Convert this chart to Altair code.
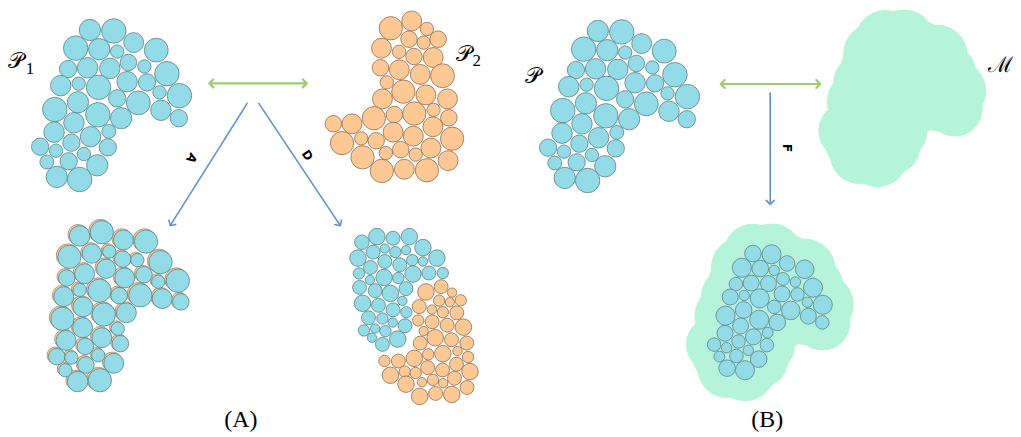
import altair as alt
import pandas as pd
import math

# ---------------- data (pixel units of the figure) ----------------
# P1 packing (blue, top-left): centre x, centre y, radius
p1_x = [89.3,113.3,133.3,75,98.7,116.7,156,67.3,87,109.3,128,144,166.7,60,78,98,126.7,146.7,159.3,179.3,
        116.7,138,77.3,54,97.3,120.7,160.7,178.7,73.3,53.3,90,108.3,70.7,39.3,55.3,83.3,107.3,46,68,96.7,56,79]
p1_y = [24,25,36.7,42.3,43.3,45.7,44.3,63.3,62,62.7,56.7,60.7,68,80,78,81.7,76,76.7,86.7,90,
        92.7,97.3,96.7,104,109.3,112.7,104.7,112.7,117.3,126.7,131.3,126,137.3,141.3,145.3,148.7,142,156.7,156,160,171.7,174.3]
p1_r = [10.7,12.3,10,12.3,10.7,6.7,12,8.7,10.3,10.3,8.3,6.7,12.3,10.3,6.7,12.3,10.3,8.7,6.7,12.3,
        8.7,12,10.7,12.3,12.3,10.7,10.3,8.7,10.3,10.3,10.3,7,8.7,8.7,6.7,6.7,8.7,7,8.7,10.7,10.7,12.3]

# P2 packing (orange, top-middle)
p2_x = [391.7,412.7,428,410,424.7,439.3,382.3,400,415,434.3,381.3,400.3,421.3,443.7,387.7,404.3,427,448.7,383.3,374.7,
        395.3,415.3,434.7,450,334,352.7,394,414.3,434,453.3,342.7,362,377,401.7,416.7,432,363.3,386.7,449.3,382.7,405.3,428]
p2_y = [22.3,15,23,33.3,36.7,33.3,42.3,46,50.7,51.7,62,64,68.7,70,76.7,86,89.3,93.3,93.3,112.7,
        109,108,104.3,112.3,118.3,118.3,126.7,130.7,121.3,133.3,137.7,133,135.3,144.3,149.3,142.7,152,147.7,155.3,165.7,164,165]
p2_r = [11.7,10,6.7,8.3,6.7,8.3,10,6.7,8.3,10,8.3,10,10,12,6.7,11.7,10,10,10,11.7,
        8.3,11.7,6.7,8.3,8.3,10,10,10,10,11.7,11.7,6.7,8.3,8.3,6.7,10,11.7,6.7,10,11.7,10,11.7]

# Result A (bottom-left): aligned packing
a_x = [79,101.3,123,145.7,68.7,91.3,108.7,122.3,137,160.3,66,84,105.7,124.3,143.7,158,177.7,63,79,99,
       118.7,140,162,180.7,61.7,82.3,103.3,126,82,117.3,65.3,101.3,84.7,120,56,70.7,97.7,113.3,85.3,64.7,77,99.3]
a_y = [231,227.3,235,236.7,252,248.7,246.7,254.3,255.3,257.3,273.3,269,264,273.3,270,277,276,292,285.3,286,
       291,290.7,294,297.3,314.3,302.3,310,308.3,323.3,324.3,336,333.3,342,339.3,352.3,353.3,351,359,360.7,366,377.3,376]
a_r = [10.3,11.7,10,11.7,11.7,9.7,6.7,8.3,6.7,11.7,8.3,10,9.7,10,8.3,6.7,11.7,10,6.7,11.7,
       8.3,11.7,10,8.3,11.7,10,11.7,10,10,6.7,10,10,8.3,8.3,8.3,6.7,6.7,10,8.3,6.7,10.3,11.7]

# Result D (bottom-middle): blue part
db_x = [362.7,377.7,394,410.3,358.7,374,385.7,396.3,407,424,371.3,385.7,400.7,413.3,424,438,359.7,370.7,385,399.3,
        414,430,444,360.3,376,391.3,407,363.3,379.3,394,403.3,407.3,369.3,383.3,393.7,406,364.7,376,386.3,372.7,383.3,398.7]
db_y = [237.3,231.7,233.3,231.7,253.3,247.3,243.7,247.3,245.3,242.7,262.7,256.7,260,255.3,256.7,253.3,268.7,275.3,272.7,273.3,
        269.3,268.3,268.3,282.7,286,288.7,284,298.7,300.7,305.3,296.3,307.7,313.3,314,318,321.3,326,324,326.7,333.3,340,334.7]
db_r = [7.3,8.3,7,8.3,8.3,7,4.7,5.7,4.7,8.3,7,7,7,5.7,4.7,8.3,5.7,4.7,8.3,5.7,
        8.3,7,5.7,7,7,8.3,7,8.3,7,7,4.7,5.7,7,5.7,4.7,7,5.7,4.7,5.7,4.7,7,8.3]
# Result D: orange part
do_x = [442.3,427,453.3,462,440.3,451,420.3,433,444,458,419.3,433.3,448.3,464.7,424.7,436.3,452.7,468,421.3,429.3,
        444,458.7,469.3,415.3,399.3,385.3,457.7,428.7,443.7,471.3,391.3,405.7,416.7,434,444.3,455.7,407,423,420.7,436.7,453,468.3]
do_y = [282,287.3,288,295.7,296,297.7,302,305,307.7,308.3,316,317.3,320.7,322.7,326.7,333.3,335.3,338.7,338.7,350,
        349.3,346.7,352.7,354,356.7,356.7,360,363.3,365.7,367.3,371,367.3,368.7,375.7,379,374,380,378,392.3,389.3,390.3,383.3]
do_r = [7,8.3,4.7,5.7,5.7,4.7,7,4.7,5.7,7,5.7,7,7,8.3,4.7,8.3,7,7,7,5.7,
        8.3,4.7,5.7,8.3,7,5.7,7,7,7,8.3,8.3,5.7,5.7,5.7,4.7,7,8.3,4.7,8.3,7,8.3,7]

# arrows: start / end
arr_x1 = [209.3, 247.7, 258.7, 723.3, 773]
arr_y1 = [77.7, 97.3, 97.3, 78.3, 86.7]
arr_x2 = [307.3, 170, 341, 823.3, 773]
arr_y2 = [77.7, 220.7, 220.7, 78.3, 199.3]
arr_kind = ["double", "single", "single", "double", "single"]

# labels
lab_text = ["A", "D", "F"]
lab_x = [191.7, 307.7, 790]
lab_y = [152.7, 150, 142.7]
lab_angle = [122, 56, 90]

BLUE = "#93dce7"
BLUE_STROKE = "#5e8088"
ORANGE = "#fec894"
ORANGE_STROKE = "#8e6d52"
MINT = "#b5f4da"
GREEN_ARROW = "#9dcc6f"
BLUE_ARROW = "#5f90cf"


def circles(xs, ys, rs, sx=1.0, dx=0.0, dy=0.0, grow=0.0):
    return pd.DataFrame({
        "x": [dx + sx * v for v in xs],
        "y": [dy + sx * v for v in ys],
        "s": [(2 * (sx * r + grow)) ** 2 for r in rs],
    })


X = alt.Scale(domain=[8, 1013])
Y = alt.Scale(domain=[8, 429], reverse=True)


def circ_layer(df, fill, stroke=None, sw=0.8):
    kw = dict(fill=fill, opacity=1, fillOpacity=1)
    if stroke:
        kw.update(stroke=stroke, strokeWidth=sw)
    else:
        kw.update(strokeWidth=0)
    return alt.Chart(df).mark_circle(**kw).encode(
        x=alt.X("x:Q", scale=X, axis=None),
        y=alt.Y("y:Q", scale=Y, axis=None),
        size=alt.Size("s:Q", scale=None, legend=None),
    )


# transforms of P1 for the other panels
P_DX, P_DY = 510.5, 1.0          # P (right panel)
B_S, B_DX, B_DY = 0.78, 686.0, 230.0   # scaled P inside bottom M
M_GROW = 21.5
MT_DX, MT_DY = B_DX + 133, B_DY - 215  # top M

layers = [
    circ_layer(circles(p1_x, p1_y, p1_r, B_S, MT_DX, MT_DY, M_GROW), MINT),
    circ_layer(circles(p1_x, p1_y, p1_r, B_S, B_DX, B_DY, M_GROW), MINT),
    circ_layer(circles(p1_x, p1_y, p1_r), BLUE, BLUE_STROKE),
    circ_layer(circles(p2_x, p2_y, p2_r), ORANGE, ORANGE_STROKE),
    circ_layer(circles(p1_x, p1_y, p1_r, 1.0, P_DX, P_DY), BLUE, BLUE_STROKE),
    circ_layer(circles(p1_x, p1_y, p1_r, B_S, B_DX, B_DY), BLUE, BLUE_STROKE),
    circ_layer(circles(a_x, a_y, a_r, 1.0, -1.5, -1.3), ORANGE, ORANGE_STROKE, 0.6),
    circ_layer(circles(a_x, a_y, a_r), BLUE, BLUE_STROKE),
    circ_layer(circles(db_x, db_y, db_r), BLUE, BLUE_STROKE),
    circ_layer(circles(do_x, do_y, do_r), ORANGE, ORANGE_STROKE),
]

# arrows
arr = pd.DataFrame({"x1": arr_x1, "y1": arr_y1, "x2": arr_x2, "y2": arr_y2, "kind": arr_kind})
arr["color"] = [GREEN_ARROW if k == "double" else BLUE_ARROW for k in arr_kind]
arr["w"] = [2.2 if k == "double" else 1.6 for k in arr_kind]
lines = alt.Chart(arr).mark_rule().encode(
    x=alt.X("x1:Q", scale=X, axis=None), y=alt.Y("y1:Q", scale=Y, axis=None),
    x2="x2:Q", y2="y2:Q",
    color=alt.Color("color:N", scale=None),
    strokeWidth=alt.StrokeWidth("w:Q", scale=None),
)
heads = []
for x1, y1, x2, y2, k in zip(arr_x1, arr_y1, arr_x2, arr_y2, arr_kind):
    ang = math.degrees(math.atan2(y2 - y1, x2 - x1)) % 360
    heads.append({"x": x2, "y": y2, "a": ang, "k": k})
    if k == "double":
        heads.append({"x": x1, "y": y1, "a": (ang + 180) % 360, "k": k})
hd = pd.DataFrame(heads)
hd["color"] = [GREEN_ARROW if k == "double" else BLUE_ARROW for k in hd["k"]]
hd["w"] = [2.2 if k == "double" else 1.6 for k in hd["k"]]
head_layer = alt.Chart(hd).mark_point(
    shape="M-1,-1L0,0L-1,1", filled=False, size=64, strokeCap="round", strokeJoin="round", opacity=1
).encode(
    x=alt.X("x:Q", scale=X, axis=None), y=alt.Y("y:Q", scale=Y, axis=None),
    angle=alt.Angle("a:Q", scale=None),
    color=alt.Color("color:N", scale=None),
    strokeWidth=alt.StrokeWidth("w:Q", scale=None),
)

labs = pd.DataFrame({"t": lab_text, "x": lab_x, "y": lab_y, "a": lab_angle})
lab_layer = alt.Chart(labs).mark_text(
    font="DejaVu Sans", fontSize=12, fontWeight="bold", color="black", baseline="middle", align="center"
).encode(
    x=alt.X("x:Q", scale=X, axis=None), y=alt.Y("y:Q", scale=Y, axis=None),
    text="t:N", angle=alt.Angle("a:Q", scale=None),
)

# math symbols and captions
sym = pd.DataFrame({
    "t": ["\U0001D4AB", "\U0001D4AB", "\U0001D4AB", "\u2133"],
    "x": [15, 465, 535, 1004],
    "y": [62, 55, 77, 66],
})
sym_layer = alt.Chart(sym).mark_text(
    font="DejaVu Serif", fontSize=22, color="black", baseline="alphabetic", align="center"
).encode(x=alt.X("x:Q", scale=X, axis=None), y=alt.Y("y:Q", scale=Y, axis=None), text="t:N")

sub = pd.DataFrame({"t": ["1", "2"], "x": [29, 478], "y": [68, 60]})
sub_layer = alt.Chart(sub).mark_text(
    font="Liberation Serif", fontSize=17, color="black", baseline="alphabetic", align="center"
).encode(x=alt.X("x:Q", scale=X, axis=None), y=alt.Y("y:Q", scale=Y, axis=None), text="t:N")

cap = pd.DataFrame({"t": ["(A)", "(B)"], "x": [241, 770], "y": [423, 423]})
cap_layer = alt.Chart(cap).mark_text(
    font="Liberation Serif", fontSize=24, color="black", baseline="alphabetic", align="center"
).encode(x=alt.X("x:Q", scale=X, axis=None), y=alt.Y("y:Q", scale=Y, axis=None), text="t:N")

chart = alt.layer(
    *layers, lines, head_layer, lab_layer, sym_layer, sub_layer, cap_layer
).properties(width=1005, height=421, padding=0, background="white").configure_view(stroke=None)

chart.save("out.html", embed_options={"renderer": "svg", "actions": False})
